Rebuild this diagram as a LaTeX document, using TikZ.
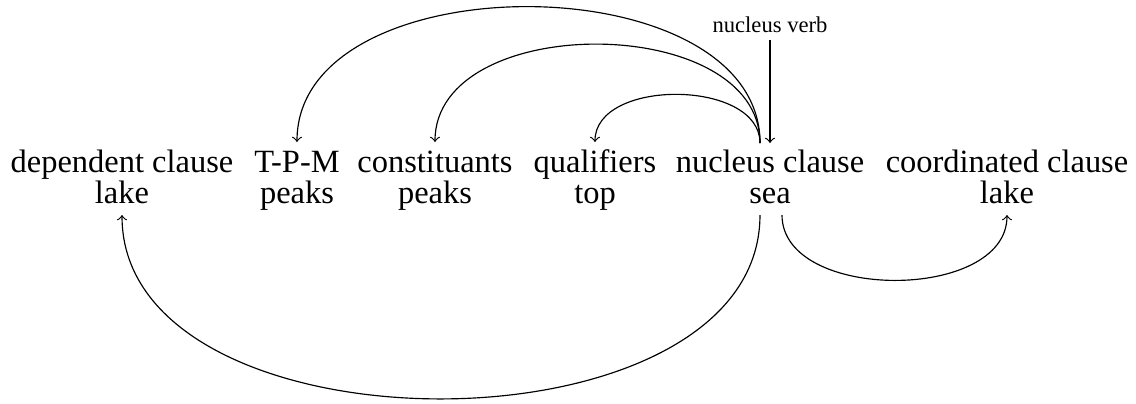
\documentclass[tikz,border=0pt]{standalone}
\usepackage{fontspec}
\setmainfont{Liberation Serif}
\begin{document}
\begin{tikzpicture}[x=0.345pt,y=-0.345pt,
  word/.style={font=\fontsize{11.2}{13}\selectfont, inner sep=0pt, anchor=base},
  small/.style={font=\fontsize{7.8}{9}\selectfont, inner sep=0pt, anchor=base},
  link/.style={->, line width=0.4pt}]
\useasboundingbox (0,0) rectangle (1136,403);
% words
\node[word] (depA)   at (122,172) {dependent clause};
\node[word] (depB)   at (122,203) {lake};
\node[word] (tpmA)   at (297,172) {T-P-M};
\node[word] (tpmB)   at (297,203) {peaks};
\node[word] (conA)   at (435,172) {constituants};
\node[word] (conB)   at (435,203) {peaks};
\node[word] (qualA)  at (595,172) {qualifiers};
\node[word] (qualB)  at (595,203) {top};
\node[word] (nucA)   at (770,172) {nucleus clause};
\node[word] (nucB)   at (770,203) {sea};
\node[word] (coordA) at (1007,172) {coordinated clause};
\node[word] (coordB) at (1007,203) {lake};
\node[small] (verb)  at (770,32) {nucleus verb};
% anchor points
\coordinate (nucT)   at ([shift={(-10,-29)}]nucA.base);
\coordinate (verbT)  at ([shift={(0,-29)}]nucA.base);
\coordinate (verbS)  at ([shift={(0,8)}]verb.base);
\coordinate (qualT)  at ([shift={(0,-30)}]qualA.base);
\coordinate (conT)   at ([shift={(0,-30)}]conA.base);
\coordinate (tpmT)   at ([shift={(0,-30)}]tpmA.base);
\coordinate (nucL)   at ([shift={(-10,12)}]nucB.base);
\coordinate (nucR)   at ([shift={(12,12)}]nucB.base);
\coordinate (depT)   at ([shift={(0,12)}]depB.base);
\coordinate (coordT) at ([shift={(0,12)}]coordB.base);
% connectors
\draw[link] (verbS) -- (verbT);
\draw[link] (nucT) .. controls +(0,-64) and +(0,-64) .. (qualT);
\draw[link] (nucT) .. controls +(0,-131) and +(0,-131) .. (conT);
\draw[link] (nucT) .. controls +(0,-181) and +(0,-181) .. (tpmT);
\draw[link] (nucL) .. controls +(0,245) and +(0,245) .. (depT);
\draw[link] (nucR) .. controls +(0,87) and +(0,87) .. (coordT);
\end{tikzpicture}
\end{document}
